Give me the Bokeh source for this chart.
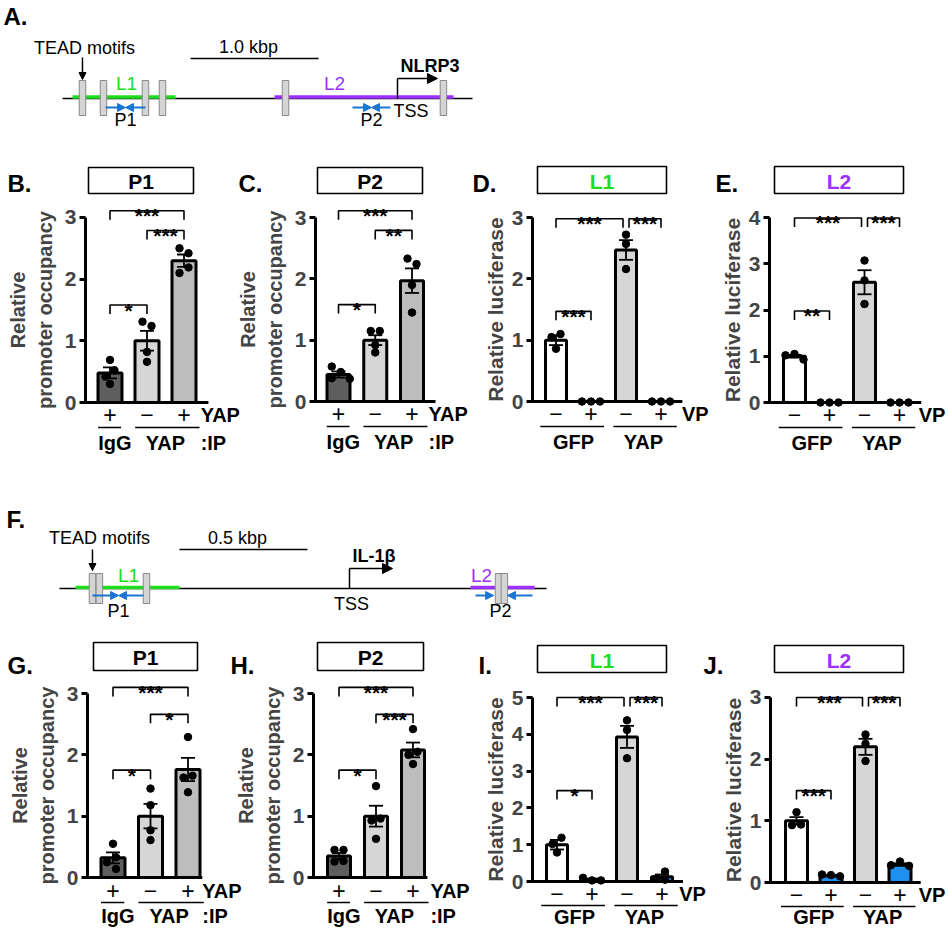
from bokeh.plotting import figure
from bokeh.models import Range1d, LinearAxis, FixedTicker, Arrow, NormalHead
from bokeh.core.properties import value
from bokeh.embed import file_html
from bokeh.resources import INLINE

FONT = "Liberation Sans"
GREEN = "#20dc20"
PURPLE = "#9b30ff"
PRIMER = "#1b76d1"
VP_BLUE = "#1f8ff0"
DARK, LIGHT, MID = "#5e5e5e", "#d6d6d6", "#bdbdbd"
CW, CH = 948, 930   # canvas size in pixels

# ---------------- data ----------------
# A: NLRP3 promoter map, bp relative to TSS
nlrp3_motifs = [-2461, -2297, -1969, -1836, -875, 359]
nlrp3_L1 = [-2539, -1734]
nlrp3_L2 = [-961, 438]
nlrp3_P1 = [-2281, -2125, -2125, -1969]
nlrp3_P2 = [-352, -203, -203, -55]
nlrp3_span = [-2617, 586]
nlrp3_scale = [-1617, -617]          # 1.0 kbp
# F: IL-1b promoter map, bp relative to TSS
il1b_motifs = [-1004, -977, -793, 582, 605]
il1b_L1 = [-1070, -664]
il1b_L2 = [473, 723]
il1b_P1 = [-1004, -902, -902, -805]
il1b_P2 = [492, 563, 617, 715]
il1b_span = [-1133, 770]
il1b_scale = [-664, -164]            # 0.5 kbp

chip_yap = ["+", "\u2212", "+"]
chip_ip = ["IgG", "YAP", "YAP"]
luc_vp = ["\u2212", "+", "\u2212", "+"]
luc_grp = ["GFP", "GFP", "YAP", "YAP"]

B_mean = [0.48, 1.00, 2.30]
B_sem = [0.09, 0.16, 0.10]
B_pts = [[0.69, 0.52, 0.42, 0.30], [1.24, 1.31, 0.82, 0.66], [2.42, 2.50, 2.19, 2.10]]
B_sig = [(0, 1, "*"), (1, 2, "***"), (0, 2, "***")]

C_mean = [0.44, 1.00, 1.97]
C_sem = [0.05, 0.08, 0.20]
C_pts = [[0.48, 0.57, 0.38, 0.37], [1.15, 1.15, 0.92, 0.80], [2.24, 2.33, 1.90, 1.45]]
C_sig = [(0, 1, "*"), (1, 2, "**"), (0, 2, "***")]

D_mean = [1.00, 0.00, 2.47, 0.00]
D_sem = [0.08, 0.00, 0.16, 0.00]
D_pts = [[1.10, 1.05, 0.86], [0, 0, 0], [2.72, 2.57, 2.16], [0, 0, 0]]
D_sig = [(0, 1, "***"), (0, 2, "***"), (2, 3, "***")]

E_mean = [1.00, 0.00, 2.60, 0.00]
E_sem = [0.03, 0.00, 0.26, 0.00]
E_pts = [[1.05, 1.02, 0.93], [0, 0, 0], [3.07, 2.64, 2.13], [0, 0, 0]]
E_sig = [(0, 1, "**"), (0, 2, "***"), (2, 3, "***")]

G_mean = [0.32, 1.00, 1.76]
G_sem = [0.09, 0.20, 0.19]
G_pts = [[0.55, 0.33, 0.25, 0.14], [1.45, 1.18, 0.77, 0.61], [2.29, 1.66, 1.63, 1.39]]
G_sig = [(0, 1, "*"), (1, 2, "*"), (0, 2, "***")]

H_mean = [0.35, 1.00, 2.08]
H_sem = [0.05, 0.17, 0.12]
H_pts = [[0.45, 0.45, 0.27, 0.26], [1.49, 0.96, 0.93, 0.63], [2.42, 2.05, 2.00, 1.85]]
H_sig = [(0, 1, "*"), (1, 2, "***"), (0, 2, "***")]

I_mean = [1.00, 0.05, 3.93, 0.13]
I_sem = [0.13, 0.03, 0.30, 0.06]
I_pts = [[1.19, 1.02, 0.79], [0.03, 0.10, 0.03], [4.38, 4.12, 3.35], [0.27, 0.08, 0.05]]
I_sig = [(0, 1, "*"), (0, 2, "***"), (2, 3, "***")]

J_mean = [1.00, 0.11, 2.20, 0.29]
J_sem = [0.06, 0.01, 0.13, 0.02]
J_pts = [[1.14, 0.94, 0.93], [0.12, 0.13, 0.10], [2.40, 2.25, 1.97], [0.34, 0.28, 0.27]]
J_sig = [(0, 1, "***"), (0, 2, "***"), (2, 3, "***")]

# ---------------- canvas ----------------
p = figure(width=CW, height=CH, x_range=Range1d(0, CW), y_range=Range1d(CH, 0),
           x_axis_location=None, y_axis_location=None, output_backend="svg",
           toolbar_location=None, min_border=0, outline_line_color=None)
p.background_fill_color = "white"
p.xgrid.grid_line_color = None
p.ygrid.grid_line_color = None
p.grid.visible = False


def txt(x, y, s, size=17, bold=False, color="black", align="center", baseline="middle",
        xo=0, yo=0, xr="default", yr="default"):
    p.text(x=[x], y=[y], text=[s], text_font=value(FONT), text_font_size=f"{size}px",
           text_font_style="bold" if bold else "normal", text_color=color,
           text_align=align, text_baseline=baseline, x_offset=xo, y_offset=yo,
           x_range_name=xr, y_range_name=yr)


def swarm(vals, ppu, diam=7.0, step_px=9.0):
    ys = [v * ppu for v in vals]
    xs = []
    for i, y in enumerate(ys):
        chosen = 0.0
        for k in (0, -1, 1, -2, 2, -3, 3):
            x = k * step_px
            if all((x - xs[j]) ** 2 + (y - ys[j]) ** 2 >= diam ** 2 for j in range(i)):
                chosen = x
                break
        xs.append(chosen)
    n = len(ys)
    seen = set()
    for s in range(n):
        if s in seen:
            continue
        comp, q = [s], [s]
        seen.add(s)
        while q:
            a = q.pop()
            for b in range(n):
                if b not in seen and abs(ys[a] - ys[b]) < diam:
                    seen.add(b)
                    comp.append(b)
                    q.append(b)
        m = sum(xs[a] for a in comp) / len(comp)
        for a in comp:
            xs[a] -= m
    return xs


def gene_map(name, M, motifs, L1, L2, P1, P2, span, scale, scale_txt, gene):
    xr = name
    p.extra_x_ranges[xr] = Range1d((0 - M["tss"]) / M["ppbp"], (CW - M["tss"]) / M["ppbp"])
    kw = dict(x_range_name=xr)
    by = M["base"]
    p.segment(x0=[span[0]], y0=[by], x1=[span[1]], y1=[by], line_color="black", line_width=1.5, **kw)
    p.segment(x0=[L1[0], L2[0]], y0=[M["lline"]] * 2, x1=[L1[1], L2[1]], y1=[M["lline"]] * 2,
              line_color=[GREEN, PURPLE], line_width=3.5, **kw)
    t, b = M["box"]
    p.rect(x=motifs, y=[(t + b) / 2] * len(motifs), width=6.5, width_units="screen", height=b - t,
           fill_color="#d4d4d4", line_color="#8a8a8a", line_width=1, **kw)
    for P, plab in ((P1, "P1"), (P2, "P2")):
        for s, e in ((P[0], P[1]), (P[3], P[2])):
            p.add_layout(Arrow(x_start=s, y_start=M["primer"], x_end=e, y_end=M["primer"],
                               end=NormalHead(size=8, fill_color=PRIMER, line_color=PRIMER, line_width=1),
                               line_color=PRIMER, line_width=2, **kw))
        txt((P[1] + P[2]) / 2, M["plabel"], plab, size=18, xr=xr)
    # TEAD arrow and label
    a0, a1 = M["tead_arrow"]
    p.add_layout(Arrow(x_start=motifs[0], y_start=a0, x_end=motifs[0], y_end=a1,
                       end=NormalHead(size=7, fill_color="black", line_color="black", line_width=1),
                       line_color="black", line_width=1.5, **kw))
    txt(M["tead_x"], M["tead_lbl"], "TEAD motifs", size=18, xr=xr)
    # scale bar
    p.segment(x0=[scale[0]], y0=[M["scale"]], x1=[scale[1]], y1=[M["scale"]], line_color="black",
              line_width=1.5, **kw)
    txt((scale[0] + scale[1]) / 2, M["scale_lbl"], scale_txt, size=18, xo=-6, xr=xr)
    # TSS arrow
    p.segment(x0=[0], y0=[by], x1=[0], y1=[M["tss_top"]], line_color="black", line_width=1.5, **kw)
    p.add_layout(Arrow(x_start=0, y_start=M["tss_top"], x_end=M["arrow_len"], y_end=M["tss_top"],
                       end=NormalHead(size=10, fill_color="black", line_color="black", line_width=1),
                       line_color="black", line_width=1.5, **kw))
    txt(0, M["gene_y"], gene, size=18, bold=True, align="left", xo=3, xr=xr)
    dx, ty, al = M["tss_lbl"]
    txt(0, ty, "TSS", size=18, align=al, xo=dx, xr=xr)
    txt(M["L1_x"], M["llabel"], "L1", size=19, color=GREEN, xr=xr)
    txt(M["L2_x"], M["llabel"], "L2", size=19, color=PURPLE, xr=xr)
    txt(M["letter"][0], M["letter"][1], name + ".", size=24, bold=True, align="left")


MAP_A = dict(tss=397, ppbp=0.128, base=98, lline=96.5, box=(80, 115), primer=107, plabel=119,
             llabel=83, tead_lbl=47, tead_arrow=(57, 79), scale=58, scale_lbl=46, tss_top=78,
             arrow_len=312, gene_y=65, tss_lbl=(-4, 110, "left"), tead_x=-2445, L1_x=-2117,
             L2_x=-492, letter=(3, 16))
MAP_F = dict(tss=349, ppbp=0.256, base=588, lline=587, box=(573, 603), primer=595, plabel=610,
             llabel=575, tead_lbl=537, tead_arrow=(549, 570), scale=549, scale_lbl=537, tss_top=568,
             arrow_len=168, gene_y=555, tss_lbl=(2, 603, "center"), tead_x=-977, L1_x=-863,
             L2_x=516, letter=(6, 519))

gene_map("A", MAP_A, nlrp3_motifs, nlrp3_L1, nlrp3_L2, nlrp3_P1, nlrp3_P2, nlrp3_span,
         nlrp3_scale, "1.0 kbp", "NLRP3")
gene_map("F", MAP_F, il1b_motifs, il1b_L1, il1b_L2, il1b_P1, il1b_P2, il1b_span,
         il1b_scale, "0.5 kbp", "IL-1\u03b2")

# ---------------- bar panels ----------------
LAY = {
    "B": dict(ax=85, y0=402, ppu=61.67, bar0=109.5, step=37.0, bw=24, box=(88, 193, 167, 193),
              letter=(7, 183), ymax=3, sig_y=[1.58, 2.79, 3.11], end=0.66, roff=0.45, u=(12, 25, 40)),
    "C": dict(ax=315, y0=401, ppu=61.33, bar0=338, step=36.75, bw=23, box=(317, 422, 167, 193),
              letter=(238, 183), ymax=3, sig_y=[1.58, 2.79, 3.11], end=0.64, roff=0.45, u=(12, 25, 40)),
    "D": dict(ax=532, y0=401, ppu=61.33, bar0=555.5, step=35.0, bw=21, box=(537, 666, 166, 193),
              letter=(472, 183), ymax=3, sig_y=[1.47, 2.98, 2.98], end=0.61, roff=0.6, u=(12, 25, 40)),
    "E": dict(ax=769, y0=402, ppu=46.25, bar0=794, step=35.0, bw=22, box=(774, 903, 166, 193),
              letter=(715, 183), ymax=4, sig_y=[1.98, 3.99, 3.99], end=0.62, roff=0.55, u=(12, 25, 40)),
    "G": dict(ax=87, y0=877, ppu=61.33, bar0=112.5, step=37.5, bw=24, box=(93, 197, 642, 670),
              letter=(7, 665), ymax=3, sig_y=[1.75, 2.66, 3.10], end=0.38, roff=0.38, u=(13, 25, 38)),
    "H": dict(ax=313, y0=877, ppu=61.33, bar0=338.5, step=37.0, bw=23, box=(317, 423, 642, 670),
              letter=(230, 665), ymax=3, sig_y=[1.75, 2.66, 3.10], end=0.39, roff=0.47, u=(13, 25, 38)),
    "I": dict(ax=532, y0=881, ppu=36.8, bar0=556.5, step=35.0, bw=21, box=(537, 666, 645, 672),
              letter=(478, 665), ymax=5, sig_y=[2.47, 5.0, 5.0], end=0.6, roff=0.49, u=(12, 24, 35)),
    "J": dict(ax=770, y0=882, ppu=61.67, bar0=796, step=34.5, bw=22, box=(774, 903, 645, 672),
              letter=(703, 665), ymax=3, sig_y=[1.49, 3.0, 3.0], end=0.6, roff=0.54, u=(12, 24, 34)),
}


def bar_panel(k, mean, sem, pts, sig, kind, title, title_color):
    L = LAY[k]
    xr, yr = "x" + k, "y" + k
    step, bar0, y0, ppu = L["step"], L["bar0"], L["y0"], L["ppu"]
    p.extra_x_ranges[xr] = Range1d((0 - bar0) / step, (CW - bar0) / step)
    p.extra_y_ranges[yr] = Range1d((y0 - CH) / ppu, (y0 - 0) / ppu)
    kw = dict(x_range_name=xr, y_range_name=yr)
    n = len(mean)
    idx = list(range(n))
    colors = [DARK, LIGHT, MID] if kind == "chip" else ["white", VP_BLUE, LIGHT, VP_BLUE]
    p.vbar(x=idx, top=mean, bottom=0, width=L["bw"] / step, fill_color=colors,
           line_color="black", line_width=3, **kw)
    # error bars
    ex = [i for i in idx if sem[i] > 0]
    lo = [mean[i] - sem[i] for i in ex]
    hi = [mean[i] + sem[i] for i in ex]
    cap = 7.0 / step
    p.segment(x0=ex, y0=lo, x1=ex, y1=hi, line_color="black", line_width=1.8, **kw)
    p.segment(x0=[x - cap for x in ex] * 2, y0=lo + hi, x1=[x + cap for x in ex] * 2, y1=lo + hi,
              line_color="black", line_width=1.8, **kw)
    # points
    px, py = [], []
    for i, vals in enumerate(pts):
        offs = swarm(vals, ppu)
        px += [i + o / step for o in offs]
        py += list(vals)
    p.scatter(x=px, y=py, size=7.5, fill_color="black", line_color="black", **kw)
    # axes
    ax_u = (L["ax"] - bar0) / step
    ylab = "Relative\npromoter occupancy" if kind == "chip" else "Relative luciferase"
    axis = LinearAxis(x_range_name=xr, y_range_name=yr, fixed_location=ax_u, bounds=(0, L["ymax"]),
                      ticker=FixedTicker(ticks=list(range(L["ymax"] + 1))), axis_label=ylab)
    axis.minor_tick_line_color = None
    axis.major_tick_in = 0
    axis.major_tick_out = 6
    axis.axis_line_width = 3
    axis.major_tick_line_width = 3
    axis.major_label_standoff = 3
    axis.major_label_text_font = FONT
    axis.major_label_text_font_style = "bold"
    axis.major_label_text_font_size = "21px"
    axis.axis_label_text_font = FONT
    axis.axis_label_text_font_style = "bold"
    axis.axis_label_text_font_size = "20px" if kind == "chip" else "21px"
    axis.axis_label_standoff = 6 if kind == "chip" else 2
    p.add_layout(axis, "left")
    p.segment(x0=[ax_u - 1.5 / step], y0=[0], x1=[n - 1 + L["end"]], y1=[0],
              line_color="black", line_width=3, **kw)
    # significance brackets
    leg = 9.0 / ppu
    for (i, j, lab), h in zip(sig, L["sig_y"]):
        xi, xj = float(i), float(j)
        for (a, b, _), h2 in zip(sig, L["sig_y"]):
            if (a, b) != (i, j) and abs(h2 - h) < 1e-9:
                if a == j:
                    xj -= 3.0 / step
                if b == i:
                    xi += 3.0 / step
        p.line(x=[xi, xi, xj, xj], y=[h - leg, h, h, h - leg], line_color="black",
               line_width=1.6, **kw)
        txt((xi + xj) / 2, h, lab, size=21, bold=True, baseline="alphabetic", yo=5, xr=xr, yr=yr)
    # title box + panel letter
    l, r, t, b = L["box"]
    p.quad(left=[l], right=[r], top=[t], bottom=[b], fill_color="white", line_color="black",
           line_width=1.6)
    txt((l + r) / 2, (t + b) / 2 + 1, title, size=21, bold=True, color=title_color)
    txt(L["letter"][0], L["letter"][1], k + ".", size=24, bold=True, align="left")
    # labels under the x axis
    u1, u2, u3 = L["u"]
    signs = chip_yap if kind == "chip" else luc_vp
    groups = chip_ip if kind == "chip" else luc_grp
    for i, s in enumerate(signs):
        txt(i, 0, s, size=23, yo=u1, xr=xr, yr=yr)
    right = n - 1 + L["roff"]
    txt(right, 0, "YAP" if kind == "chip" else "VP", size=20, bold=True, align="left", yo=u1,
        xr=xr, yr=yr)
    if kind == "chip":
        txt(right, 0, ":IP", size=20, bold=True, align="left", yo=u3, xr=xr, yr=yr)
        ext = [(0.32, 0.30, 0.13), (0.32, 0.42, 0.0)]
    else:
        ext = [(0.45, 0.37, 0.0), (0.36, 0.45, 0.0)]
    runs = []
    for i, g in enumerate(groups):
        if runs and runs[-1][0] == g:
            runs[-1][2] = i
        else:
            runs.append([g, i, i])
    for (g, s0, s1), (el, er, lo_) in zip(runs, ext):
        p.segment(x0=[s0 - el], y0=[-u2 / ppu], x1=[s1 + er], y1=[-u2 / ppu], line_color="black",
                  line_width=1.5, **kw)
        txt((s0 + s1) / 2 + lo_, 0, g, size=20, bold=True, yo=u3, xr=xr, yr=yr)


bar_panel("B", B_mean, B_sem, B_pts, B_sig, "chip", "P1", "black")
bar_panel("C", C_mean, C_sem, C_pts, C_sig, "chip", "P2", "black")
bar_panel("D", D_mean, D_sem, D_pts, D_sig, "luc", "L1", GREEN)
bar_panel("E", E_mean, E_sem, E_pts, E_sig, "luc", "L2", PURPLE)
bar_panel("G", G_mean, G_sem, G_pts, G_sig, "chip", "P1", "black")
bar_panel("H", H_mean, H_sem, H_pts, H_sig, "chip", "P2", "black")
bar_panel("I", I_mean, I_sem, I_pts, I_sig, "luc", "L1", GREEN)
bar_panel("J", J_mean, J_sem, J_pts, J_sig, "luc", "L2", PURPLE)

open("out.html", "w").write(file_html(p, INLINE))
